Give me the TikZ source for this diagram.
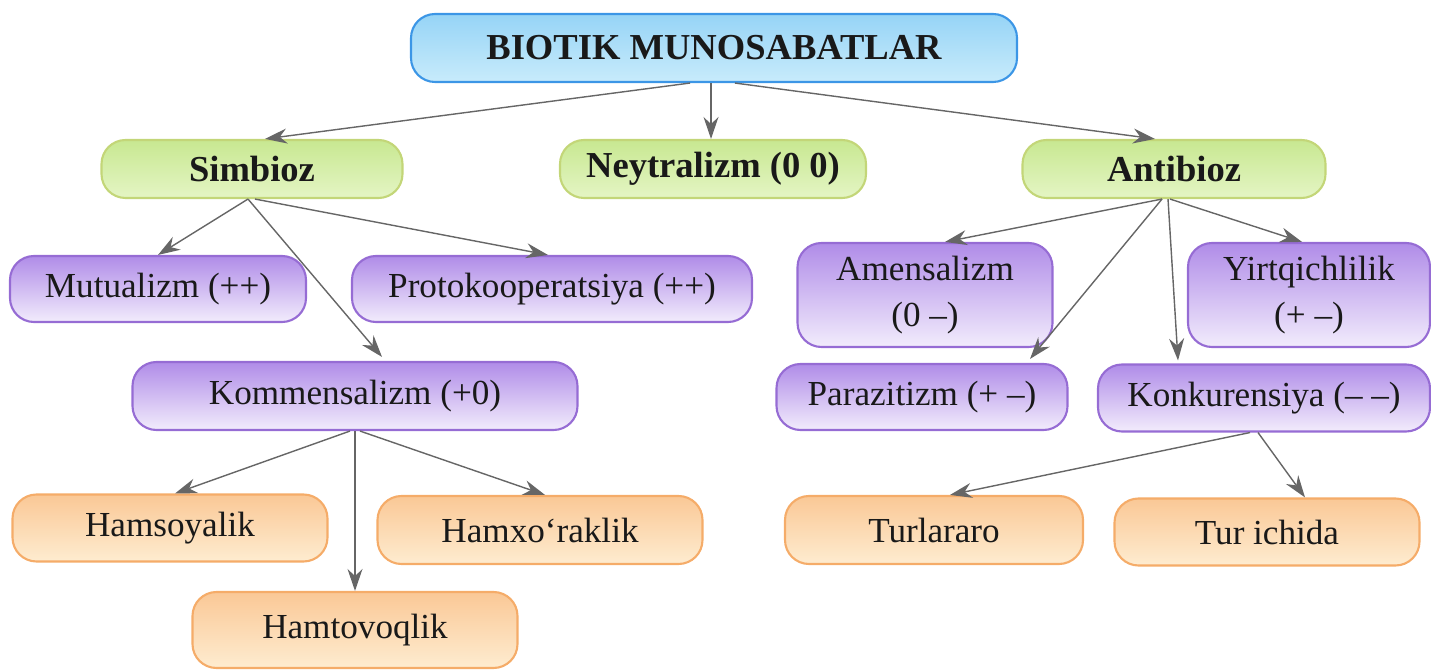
\documentclass[tikz,border=0pt]{standalone}
\usepackage{fontspec}
\setmainfont{Liberation Serif}
\usetikzlibrary{arrows.meta}

\definecolor{bioBlueLine}{RGB}{60,150,230}
\definecolor{bioBlueTop}{RGB}{150,212,246}
\definecolor{bioBlueBot}{RGB}{200,235,251}
\definecolor{bioGreenLine}{RGB}{195,214,120}
\definecolor{bioGreenTop}{RGB}{200,232,145}
\definecolor{bioGreenBot}{RGB}{228,245,196}
\definecolor{bioPurpleLine}{RGB}{150,108,212}
\definecolor{bioPurpleTop}{RGB}{176,140,232}
\definecolor{bioPurpleBot}{RGB}{242,236,252}
\definecolor{bioOrangeLine}{RGB}{245,172,105}
\definecolor{bioOrangeTop}{RGB}{250,200,150}
\definecolor{bioOrangeBot}{RGB}{254,236,208}

\begin{document}
\begin{tikzpicture}[x=0.1mm, y=-0.1mm,
  box/.style={draw, rounded corners=2.4mm, line width=0.6pt, inner sep=0pt,
    align=center, text=black!90, font=\fontsize{10}{13}\selectfont},
  bluebox/.style={box, draw=bioBlueLine, top color=bioBlueTop, bottom color=bioBlueBot,
    font=\fontsize{10.4}{12}\selectfont\bfseries},
  greenbox/.style={box, draw=bioGreenLine, top color=bioGreenTop, bottom color=bioGreenBot,
    font=\fontsize{10.4}{12}\selectfont\bfseries},
  purplebox/.style={box, draw=bioPurpleLine, top color=bioPurpleTop, bottom color=bioPurpleBot},
  orangebox/.style={box, draw=bioOrangeLine, top color=bioOrangeTop, bottom color=bioOrangeBot},
  arr/.style={-{Stealth[length=2.2mm,width=1.5mm]}, draw=black!60, line width=0.4pt}]
  \useasboundingbox (0,0) rectangle (1431,670);

  % top and first level
  \node[bluebox, minimum width=60.6mm, minimum height=6.8mm] (top) at (714,48) {BIOTIK MUNOSABATLAR};
  \node[greenbox, minimum width=30.1mm, minimum height=5.8mm] (simb) at (252,169) {Simbioz};
  \node[greenbox, minimum width=30.6mm, minimum height=5.8mm] (neyt) at (713,169) {Neytralizm (0 0)};
  \node[greenbox, minimum width=30.3mm, minimum height=5.8mm] (anti) at (1174,169) {Antibioz};

  % simbioz side
  \node[purplebox, minimum width=29.6mm, minimum height=6.6mm] (mutu) at (158,289) {Mutualizm (++)};
  \node[purplebox, minimum width=40mm, minimum height=6.6mm] (prot) at (552,289) {Protokooperatsiya (++)};
  \node[purplebox, minimum width=44.5mm, minimum height=6.8mm] (komm) at (355,396) {Kommensalizm (+0)};
  \node[orangebox, minimum width=31.5mm, minimum height=6.7mm] (hams) at (170,528) {Hamsoyalik};
  \node[orangebox, minimum width=32.5mm, minimum height=6.8mm] (hamx) at (540,530) {Hamxo‘raklik};
  \node[orangebox, minimum width=32.5mm, minimum height=7.6mm] (hamt) at (355,630) {Hamtovoqlik};

  % antibioz side
  \node[purplebox, minimum width=25.5mm, minimum height=10.4mm] (amen) at (925,295) {Amensalizm\\(0 –)};
  \node[purplebox, minimum width=24.2mm, minimum height=10.4mm] (yirt) at (1309,295) {Yirtqichlilik\\(+ –)};
  \node[purplebox, minimum width=29.1mm, minimum height=6.6mm] (para) at (922,397) {Parazitizm (+ –)};
  \node[purplebox, minimum width=33.2mm, minimum height=6.7mm] (konk) at (1264,398) {Konkurensiya (– –)};
  \node[orangebox, minimum width=29.8mm, minimum height=6.8mm] (turl) at (934,530) {Turlararo};
  \node[orangebox, minimum width=30.5mm, minimum height=6.7mm] (turi) at (1267,532) {Tur ichida};

  \draw[arr] ([xshift=-2.4mm]top.south) -- ([xshift=1.3mm]simb.north);
  \draw[arr] ([xshift=-0.3mm]top.south) -- ([xshift=-0.2mm]neyt.north);
  \draw[arr] ([xshift=2.1mm]top.south) -- ([xshift=-1.9mm]anti.north);

  \draw[arr] ([xshift=-0.4mm]simb.south) -- (mutu.north);
  \draw[arr] ([xshift=-0.4mm]simb.south) -- ([xshift=2.7mm,yshift=0.4mm]komm.north);
  \draw[arr] ([xshift=0.3mm]simb.south) -- ([xshift=-0.4mm]prot.north);

  \draw[arr] ([xshift=-0.5mm]komm.south) -- ([xshift=0.5mm]hams.north);
  \draw[arr] (komm.south) -- (hamt.north);
  \draw[arr] ([xshift=0.5mm]komm.south) -- ([xshift=0.5mm]hamx.north);

  \draw[arr] ([xshift=-1.2mm]anti.south) -- ([xshift=2mm]amen.north);
  \draw[arr] ([xshift=-1.2mm]anti.south) -- ([xshift=10.8mm,yshift=0.4mm]para.north);
  \draw[arr] ([xshift=-0.6mm]anti.south) -- ([xshift=-8.6mm,yshift=0.3mm]konk.north);
  \draw[arr] ([xshift=-0.4mm]anti.south) -- ([xshift=-0.7mm]yirt.north);

  \draw[arr] ([xshift=-1.4mm]konk.south) -- ([xshift=1.6mm]turl.north);
  \draw[arr] ([xshift=-0.6mm]konk.south) -- ([xshift=3.8mm]turi.north);
\end{tikzpicture}
\end{document}
